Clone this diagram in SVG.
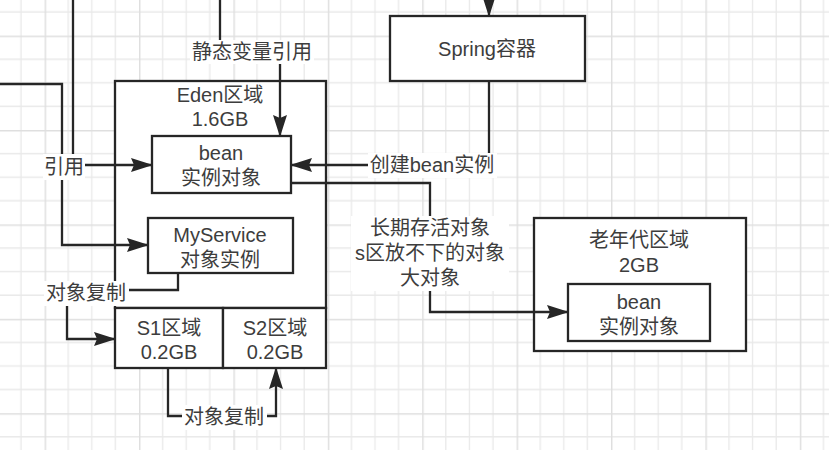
<svg xmlns="http://www.w3.org/2000/svg" width="829" height="450" viewBox="0 0 829 450">
<defs>
<pattern id="grid" patternUnits="userSpaceOnUse" x="44.6" y="35.6" width="94.4" height="94.4">
<path d="M23.6,0V94.4M47.2,0V94.4M70.8,0V94.4M0,23.6H94.4M0,47.2H94.4M0,70.8H94.4" stroke="#e9e9e9" stroke-width="1.3" fill="none"/>
<path d="M0.7,0V94.4M0,0.7H94.4" stroke="#dfdfdf" stroke-width="1.5" fill="none"/>
</pattern>
<marker id="arr" markerUnits="userSpaceOnUse" markerWidth="22" markerHeight="14" refX="21" refY="7" orient="auto">
<path d="M0,0 L22,7 L0,14 L3,7 z" fill="#262626"/>
</marker>
<style>
.box{fill:#fff;stroke:#262626;stroke-width:2.3}
.edge{fill:none;stroke:#262626;stroke-width:2.3;marker-end:url(#arr)}
.bg{fill:#fff}
text{font-family:"Liberation Sans","Noto Sans CJK SC",sans-serif;font-size:20px;fill:#3d3d3d;text-anchor:middle}
</style>
</defs>
<rect width="829" height="450" fill="#fff"/>
<rect width="829" height="450" fill="url(#grid)"/>

<g id="eden-container">
<rect class="box" x="115" y="81" width="211" height="227"/>
<text x="220" y="102">Eden区域</text>
<text x="220" y="126">1.6GB</text>
</g>
<g id="old-gen-container">
<rect class="box" x="534" y="218" width="212" height="133"/>
<text x="639" y="247">老年代区域</text>
<text x="639" y="272">2GB</text>
</g>

<g id="connectors">
<path class="edge" d="M489,-10V16"/>
<path class="edge" d="M220,0V52H280V136"/>
<path class="edge" d="M73,0V165H152"/>
<path class="edge" d="M0,84H62V245H148"/>
<path class="edge" d="M489,81V165H291"/>
<path class="edge" d="M291,183H430V312H568"/>
<path class="edge" d="M178,273V290H67V339H115"/>
<path class="edge" d="M168,368V416H276V368"/>
</g>

<g id="spring">
<rect class="box" x="390" y="16" width="195" height="65"/>
<text x="487" y="56">Spring容器</text>
</g>
<g id="eden-bean">
<rect class="box" x="152" y="136" width="139" height="57"/>
<text x="221" y="160">bean</text>
<text x="221" y="185">实例对象</text>
</g>
<g id="myservice">
<rect class="box" x="148" y="218" width="145" height="55"/>
<text x="220" y="242">MyService</text>
<text x="220" y="267">对象实例</text>
</g>
<g id="s1">
<rect class="box" x="115" y="308" width="108" height="60"/>
<text x="169" y="335">S1区域</text>
<text x="169" y="359">0.2GB</text>
</g>
<g id="s2">
<rect class="box" x="223" y="308" width="103" height="60"/>
<text x="275" y="335">S2区域</text>
<text x="275" y="359">0.2GB</text>
</g>
<g id="old-bean">
<rect class="box" x="568" y="284" width="142" height="57"/>
<text x="639" y="309">bean</text>
<text x="639" y="334">实例对象</text>
</g>

<g id="edge-labels">
<rect class="bg" x="190" y="40" width="124" height="24"/>
<text x="252" y="59">静态变量引用</text>
<rect class="bg" x="43" y="154" width="42" height="26"/>
<text x="64" y="174">引用</text>
<rect class="bg" x="368" y="153" width="129" height="25"/>
<text x="432" y="172">创建bean实例</text>
<rect class="bg" x="351" y="216" width="158" height="75"/>
<text x="430" y="235">长期存活对象</text>
<text x="430" y="260">s区放不下的对象</text>
<text x="430" y="285">大对象</text>
<rect class="bg" x="44" y="281" width="85" height="25"/>
<text x="86" y="300">对象复制</text>
<rect class="bg" x="182" y="405" width="85" height="25"/>
<text x="224" y="424">对象复制</text>
</g>
</svg>
